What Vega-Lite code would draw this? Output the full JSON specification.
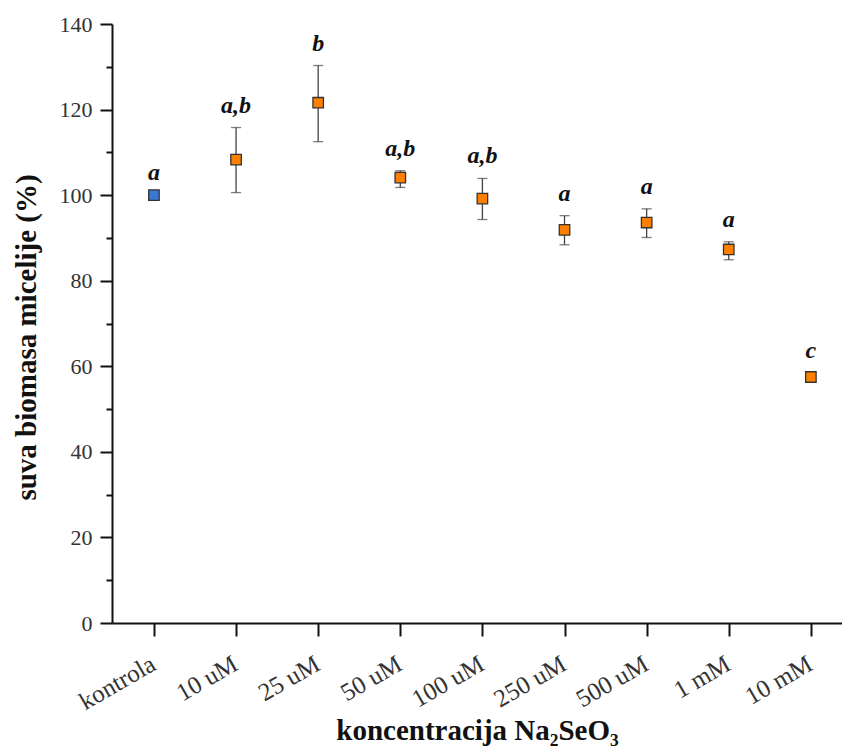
{
  "$schema": "https://vega.github.io/schema/vega-lite/v6.json",
  "autosize": "none",
  "width": 730,
  "height": 599,
  "padding": {"left": 112, "top": 24, "right": 0, "bottom": 130},
  "background": "white",
  "config": {
    "view": {"stroke": null},
    "font": "Liberation Serif"
  },
  "data": {
    "values": [
      {"cat": "kontrola", "mean": 100, "lo": 100, "hi": 100, "sig": "a", "grp": "kontrola"},
      {"cat": "10 uM", "mean": 108.3, "lo": 100.6, "hi": 115.8, "sig": "a,b", "grp": "tretman"},
      {"cat": "25 uM", "mean": 121.6, "lo": 112.5, "hi": 130.3, "sig": "b", "grp": "tretman"},
      {"cat": "50 uM", "mean": 104.1, "lo": 101.8, "hi": 105.7, "sig": "a,b", "grp": "tretman"},
      {"cat": "100 uM", "mean": 99.2, "lo": 94.3, "hi": 103.9, "sig": "a,b", "grp": "tretman"},
      {"cat": "250 uM", "mean": 91.9, "lo": 88.4, "hi": 95.2, "sig": "a", "grp": "tretman"},
      {"cat": "500 uM", "mean": 93.6, "lo": 90.1, "hi": 96.8, "sig": "a", "grp": "tretman"},
      {"cat": "1 mM", "mean": 87.3, "lo": 84.9, "hi": 89.1, "sig": "a", "grp": "tretman"},
      {"cat": "10 mM", "mean": 57.5, "lo": 56.4, "hi": 58.5, "sig": "c", "grp": "tretman"}
    ]
  },
  "encoding": {
    "x": {
      "field": "cat", "type": "ordinal", "sort": null,
      "scale": {"type": "point", "padding": 0.445, "align": 0.574},
      "axis": {
        "title": "koncentracija Na₂SeO₃",
        "titleFont": "Liberation Serif", "titleFontSize": 29, "titleFontWeight": "bold", "titleColor": "#111",
        "titlePadding": 2,
        "labelAngle": -30, "labelAlign": "right", "labelBaseline": "top",
        "labelFont": "Liberation Serif", "labelFontSize": 25, "labelColor": "#333", "labelPadding": 15,
        "labelOffset": -7,
        "domainColor": "#111", "domainWidth": 2, "tickColor": "#111", "tickWidth": 2, "tickSize": 13,
        "grid": false
      }
    }
  },
  "layer": [
    {
      "mark": {"type": "rule", "color": "#444", "strokeWidth": 1.3},
      "encoding": {
        "y": {"field": "lo", "type": "quantitative",
          "scale": {"domain": [0, 140], "nice": false, "zero": false},
          "axis": {
            "title": "suva biomasa micelije (%)",
            "titleFont": "Liberation Serif", "titleFontSize": 29, "titleFontWeight": "bold", "titleColor": "#111",
            "titlePadding": 18, "titleY": 313,
            "values": [0, 10, 20, 30, 40, 50, 60, 70, 80, 90, 100, 110, 120, 130, 140],
            "labelExpr": "datum.value % 20 == 0 ? datum.label : ''",
            "labelFont": "Liberation Serif", "labelFontSize": 22, "labelColor": "#333", "labelPadding": 8,
            "domainColor": "#111", "domainWidth": 2, "tickColor": "#111", "tickWidth": 2,
            "tickSize": {"condition": {"test": "datum.value % 20 != 0", "value": 6}, "value": 12},
            "grid": false
          }
        },
        "y2": {"field": "hi"}
      }
    },
    {
      "mark": {"type": "tick", "color": "#444", "size": 10, "thickness": 1.3, "orient": "horizontal"},
      "encoding": {"y": {"field": "lo", "type": "quantitative"}}
    },
    {
      "mark": {"type": "tick", "color": "#444", "size": 10, "thickness": 1.3, "orient": "horizontal"},
      "encoding": {"y": {"field": "hi", "type": "quantitative"}}
    },
    {
      "mark": {"type": "square", "size": 110, "opacity": 1, "strokeWidth": 1.3, "stroke": "#333"},
      "encoding": {
        "y": {"field": "mean", "type": "quantitative"},
        "fill": {"field": "grp", "type": "nominal", "legend": null,
          "scale": {"domain": ["kontrola", "tretman"], "range": ["#3a78d6", "#ff8000"]}}
      }
    },
    {
      "mark": {"type": "text", "font": "Liberation Serif", "fontSize": 24, "fontStyle": "italic", "fontWeight": "bold", "color": "#111", "baseline": "alphabetic", "dy": -15},
      "encoding": {
        "y": {"field": "hi", "type": "quantitative"},
        "text": {"field": "sig"}
      }
    }
  ]
}
